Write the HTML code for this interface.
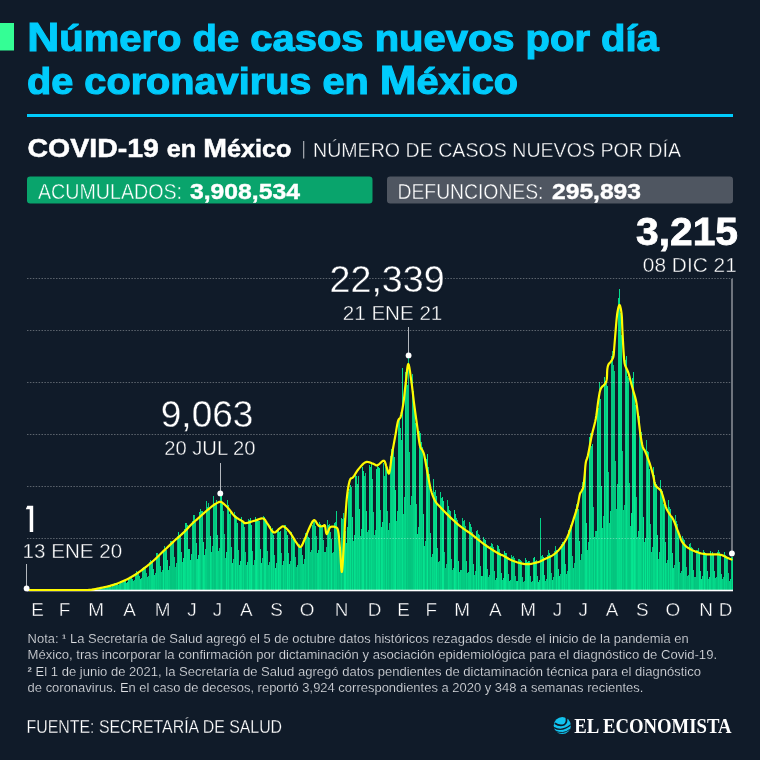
<!DOCTYPE html>
<html><head><meta charset="utf-8"><style>
html,body{margin:0;padding:0;background:#101b29;}
svg{display:block;will-change:transform}
text{font-family:"Liberation Sans",sans-serif;}
</style></head><body>
<svg width="760" height="760" viewBox="0 0 760 760">
<rect width="760" height="760" fill="#101b29"/>
<rect x="0" y="23" width="14" height="27.5" fill="#34fe95"/>
<g fill="#00cbfc" stroke="#00cbfc" stroke-width="1.1" font-weight="bold" font-size="36">
<text x="27.3" y="51" textLength="631.5" lengthAdjust="spacingAndGlyphs"><tspan font-size="40">N</tspan>úmero de casos nuevos por día</text>
<text x="27" y="94" textLength="491" lengthAdjust="spacingAndGlyphs">de coronavirus en <tspan font-size="40">M</tspan>éxico</text>
</g>
<rect x="27" y="114" width="706" height="3" fill="#00cbfc"/>
<g fill="#ffffff">
<text x="27.5" y="156.5" font-size="26" font-weight="bold" stroke="#ffffff" stroke-width="0.5" textLength="264" lengthAdjust="spacingAndGlyphs">COVID-19 <tspan font-size="23">en </tspan>M<tspan font-size="23">éxico</tspan></text>
<rect x="303" y="141" width="1.3" height="17.5" fill="#9da2a9"/>
<text x="313" y="156.5" font-size="20" stroke="#101b29" stroke-width="0.4" textLength="368" lengthAdjust="spacingAndGlyphs">NÚMERO DE CASOS NUEVOS POR DÍA</text>
</g>
<rect x="27" y="176.5" width="345.5" height="27" rx="3.2" fill="#09a46c"/>
<rect x="387" y="176.5" width="346" height="27" rx="3.2" fill="#4f5661"/>
<g fill="#ffffff" font-size="21.5">
<text x="38" y="198.5"><tspan textLength="144" lengthAdjust="spacingAndGlyphs" stroke="#09a46c" stroke-width="0.4">ACUMULADOS:</tspan><tspan x="190" font-weight="bold" stroke="#ffffff" stroke-width="0.4" textLength="110" lengthAdjust="spacingAndGlyphs">3,908,534</tspan></text>
<text x="397.5" y="198.5"><tspan textLength="146" lengthAdjust="spacingAndGlyphs" stroke="#4f5661" stroke-width="0.4">DEFUNCIONES:</tspan><tspan x="552" font-weight="bold" stroke="#ffffff" stroke-width="0.4" textLength="89" lengthAdjust="spacingAndGlyphs">295,893</tspan></text>
</g>
<g fill="#0ad98c" shape-rendering="crispEdges"><rect x="95" y="588.8" width="1" height="1.7" fill="#04d286"/><rect x="96" y="588.7" width="1" height="1.8" fill="#05d989"/><rect x="97" y="588.8" width="1" height="1.7" fill="#04c981"/><rect x="98" y="588.7" width="1" height="1.8" fill="#04d185"/><rect x="99" y="587.9" width="1" height="2.6" fill="#05e28e"/><rect x="100" y="587.6" width="1" height="2.9" fill="#05e28e"/><rect x="101" y="587.4" width="1" height="3.1" fill="#04c57e"/><rect x="102" y="587.4" width="1" height="3.1" fill="#04c77f"/><rect x="103" y="587.3" width="1" height="3.2" fill="#04c47e"/><rect x="104" y="587.8" width="1" height="2.7" fill="#04ce83"/><rect x="105" y="587.5" width="1" height="3.0" fill="#04c47e"/><rect x="106" y="586.4" width="1" height="4.1" fill="#04cf84"/><rect x="107" y="585.8" width="1" height="4.7" fill="#05d688"/><rect x="108" y="585.6" width="1" height="4.9" fill="#04c980"/><rect x="109" y="585.6" width="1" height="4.9" fill="#05d889"/><rect x="110" y="586.0" width="1" height="4.5" fill="#04d487"/><rect x="111" y="586.7" width="1" height="3.8" fill="#04c47e"/><rect x="112" y="586.2" width="1" height="4.3" fill="#04d386"/><rect x="113" y="584.0" width="1" height="6.5" fill="#04c880"/><rect x="114" y="583.3" width="1" height="7.2" fill="#04cd83"/><rect x="115" y="583.0" width="1" height="7.5" fill="#04c981"/><rect x="116" y="583.1" width="1" height="7.4" fill="#05d889"/><rect x="117" y="583.5" width="1" height="7.0" fill="#04ce83"/><rect x="118" y="584.8" width="1" height="5.7" fill="#04c67f"/><rect x="119" y="584.3" width="1" height="6.2" fill="#04d286"/><rect x="120" y="581.1" width="1" height="9.4" fill="#05dc8b"/><rect x="121" y="581.0" width="1" height="9.5" fill="#04ca81"/><rect x="122" y="581.0" width="1" height="9.5" fill="#04c780"/><rect x="123" y="580.5" width="1" height="10.0" fill="#04cc82"/><rect x="124" y="579.6" width="1" height="10.9" fill="#05e490"/><rect x="125" y="580.9" width="1" height="9.6" fill="#05e691"/><rect x="126" y="583.1" width="1" height="7.4" fill="#05d789"/><rect x="127" y="582.3" width="1" height="8.2" fill="#05e28f"/><rect x="128" y="577.7" width="1" height="12.8" fill="#05e08d"/><rect x="129" y="576.7" width="1" height="13.8" fill="#04cc82"/><rect x="130" y="576.5" width="1" height="14.0" fill="#04c57e"/><rect x="131" y="577.4" width="1" height="13.1" fill="#05d788"/><rect x="132" y="578.5" width="1" height="12.0" fill="#04d286"/><rect x="133" y="581.4" width="1" height="9.1" fill="#04cb82"/><rect x="134" y="579.6" width="1" height="10.9" fill="#04c780"/><rect x="135" y="572.7" width="1" height="17.8" fill="#04cd83"/><rect x="136" y="571.1" width="1" height="19.4" fill="#04cf84"/><rect x="137" y="572.3" width="1" height="18.2" fill="#04c980"/><rect x="138" y="572.2" width="1" height="18.3" fill="#04c981"/><rect x="139" y="575.6" width="1" height="14.9" fill="#04cf84"/><rect x="140" y="578.8" width="1" height="11.7" fill="#05e08d"/><rect x="141" y="577.7" width="1" height="12.8" fill="#04d486"/><rect x="142" y="568.4" width="1" height="22.1" fill="#04c981"/><rect x="143" y="566.7" width="1" height="23.8" fill="#04c980"/><rect x="144" y="566.7" width="1" height="23.8" fill="#04cf84"/><rect x="145" y="567.1" width="1" height="23.4" fill="#04c77f"/><rect x="146" y="573.4" width="1" height="17.1" fill="#04c77f"/><rect x="147" y="576.7" width="1" height="13.8" fill="#04d185"/><rect x="148" y="576.2" width="1" height="14.3" fill="#04c47e"/><rect x="149" y="562.1" width="1" height="28.4" fill="#04d084"/><rect x="150" y="559.9" width="1" height="30.6" fill="#04cb82"/><rect x="151" y="560.5" width="1" height="30.0" fill="#05d989"/><rect x="152" y="561.0" width="1" height="29.5" fill="#05db8a"/><rect x="153" y="569.1" width="1" height="21.4" fill="#05d889"/><rect x="154" y="575.0" width="1" height="15.5" fill="#05d889"/><rect x="155" y="573.0" width="1" height="17.5" fill="#04cc82"/><rect x="156" y="553.2" width="1" height="37.3" fill="#05d788"/><rect x="157" y="553.3" width="1" height="37.2" fill="#04cb81"/><rect x="158" y="554.5" width="1" height="36.0" fill="#04d386"/><rect x="159" y="554.7" width="1" height="35.8" fill="#04ca81"/><rect x="160" y="565.6" width="1" height="24.9" fill="#04ce83"/><rect x="161" y="571.9" width="1" height="18.6" fill="#04c47e"/><rect x="162" y="570.4" width="1" height="20.1" fill="#04c880"/><rect x="163" y="549.7" width="1" height="40.8" fill="#05e691"/><rect x="164" y="546.1" width="1" height="44.4" fill="#04c780"/><rect x="165" y="548.6" width="1" height="41.9" fill="#05d889"/><rect x="166" y="550.2" width="1" height="40.3" fill="#05d688"/><rect x="167" y="560.3" width="1" height="30.2" fill="#05da8a"/><rect x="168" y="569.5" width="1" height="21.0" fill="#04cf84"/><rect x="169" y="565.9" width="1" height="24.6" fill="#04d487"/><rect x="170" y="540.5" width="1" height="50.0" fill="#04c47e"/><rect x="171" y="541.0" width="1" height="49.5" fill="#04c47e"/><rect x="172" y="541.6" width="1" height="48.9" fill="#04c77f"/><rect x="173" y="541.4" width="1" height="49.1" fill="#04c67f"/><rect x="174" y="556.7" width="1" height="33.8" fill="#04c57e"/><rect x="175" y="566.7" width="1" height="23.8" fill="#04c57e"/><rect x="176" y="563.3" width="1" height="27.2" fill="#04d286"/><rect x="177" y="535.5" width="1" height="55.0" fill="#04c67f"/><rect x="178" y="531.9" width="1" height="58.6" fill="#05e590"/><rect x="179" y="536.4" width="1" height="54.1" fill="#05d889"/><rect x="180" y="534.4" width="1" height="56.1" fill="#04d285"/><rect x="181" y="551.5" width="1" height="39.0" fill="#05d989"/><rect x="182" y="562.2" width="1" height="28.3" fill="#04c880"/><rect x="183" y="558.1" width="1" height="32.4" fill="#05e48f"/><rect x="184" y="528.6" width="1" height="61.9" fill="#05df8d"/><rect x="185" y="522.8" width="1" height="67.7" fill="#05da8a"/><rect x="186" y="522.6" width="1" height="67.9" fill="#04cf84"/><rect x="187" y="524.7" width="1" height="65.8" fill="#05df8d"/><rect x="188" y="549.3" width="1" height="41.2" fill="#05db8a"/><rect x="189" y="549.3" width="1" height="41.2" fill="#05d788"/><rect x="190" y="559.7" width="1" height="30.8" fill="#05e38f"/><rect x="191" y="554.2" width="1" height="36.3" fill="#05d688"/><rect x="192" y="520.8" width="1" height="69.7" fill="#04cb82"/><rect x="193" y="515.4" width="1" height="75.1" fill="#04d286"/><rect x="194" y="515.0" width="1" height="75.5" fill="#04c77f"/><rect x="195" y="521.5" width="1" height="69.0" fill="#04c77f"/><rect x="196" y="542.8" width="1" height="47.7" fill="#05da8a"/><rect x="197" y="558.7" width="1" height="31.8" fill="#05dd8b"/><rect x="198" y="554.6" width="1" height="35.9" fill="#05e691"/><rect x="199" y="512.3" width="1" height="78.2" fill="#05e08d"/><rect x="200" y="509.2" width="1" height="81.3" fill="#04d286"/><rect x="201" y="511.4" width="1" height="79.1" fill="#04c47e"/><rect x="202" y="510.8" width="1" height="79.7" fill="#04d084"/><rect x="203" y="541.6" width="1" height="48.9" fill="#05e48f"/><rect x="204" y="555.1" width="1" height="35.4" fill="#05dd8b"/><rect x="205" y="549.4" width="1" height="41.1" fill="#04d084"/><rect x="206" y="501.4" width="1" height="89.1" fill="#04cf84"/><rect x="207" y="507.0" width="1" height="83.5" fill="#04c780"/><rect x="208" y="502.5" width="1" height="88.0" fill="#04c67f"/><rect x="209" y="508.4" width="1" height="82.1" fill="#04c47e"/><rect x="210" y="535.7" width="1" height="54.8" fill="#05e28e"/><rect x="211" y="552.3" width="1" height="38.2" fill="#05d688"/><rect x="212" y="546.4" width="1" height="44.1" fill="#04c57f"/><rect x="213" y="496.4" width="1" height="94.1" fill="#04cd83"/><rect x="214" y="502.9" width="1" height="87.6" fill="#04c47e"/><rect x="215" y="503.3" width="1" height="87.2" fill="#04c77f"/><rect x="216" y="500.1" width="1" height="90.4" fill="#05da8a"/><rect x="217" y="535.0" width="1" height="55.5" fill="#05d688"/><rect x="218" y="550.6" width="1" height="39.9" fill="#04cf84"/><rect x="219" y="547.5" width="1" height="43.0" fill="#04c980"/><rect x="220" y="496.2" width="1" height="94.3" fill="#05d688"/><rect x="221" y="492.9" width="1" height="97.6" fill="#05e590"/><rect x="222" y="502.7" width="1" height="87.8" fill="#04ce83"/><rect x="223" y="510.8" width="1" height="79.7" fill="#04c47e"/><rect x="224" y="534.1" width="1" height="56.4" fill="#04c47e"/><rect x="225" y="558.2" width="1" height="32.3" fill="#04c47e"/><rect x="226" y="551.6" width="1" height="38.9" fill="#05e590"/><rect x="227" y="500.0" width="1" height="90.5" fill="#04d285"/><rect x="228" y="504.7" width="1" height="85.8" fill="#05df8d"/><rect x="229" y="513.9" width="1" height="76.6" fill="#04c67f"/><rect x="230" y="511.1" width="1" height="79.4" fill="#04c880"/><rect x="231" y="547.2" width="1" height="43.3" fill="#05d889"/><rect x="232" y="562.7" width="1" height="27.8" fill="#05e28e"/><rect x="233" y="558.8" width="1" height="31.7" fill="#04cb81"/><rect x="234" y="511.9" width="1" height="78.6" fill="#04c47e"/><rect x="235" y="514.7" width="1" height="75.8" fill="#05e08e"/><rect x="236" y="516.3" width="1" height="74.2" fill="#04c981"/><rect x="237" y="522.8" width="1" height="67.7" fill="#05da8a"/><rect x="238" y="549.7" width="1" height="40.8" fill="#04c67f"/><rect x="239" y="565.1" width="1" height="25.4" fill="#05d889"/><rect x="240" y="561.0" width="1" height="29.5" fill="#05df8d"/><rect x="241" y="517.3" width="1" height="73.2" fill="#05da8a"/><rect x="242" y="520.8" width="1" height="69.7" fill="#04cb82"/><rect x="243" y="521.6" width="1" height="68.9" fill="#05da8a"/><rect x="244" y="527.3" width="1" height="63.2" fill="#04c57f"/><rect x="245" y="552.4" width="1" height="38.1" fill="#04ca81"/><rect x="246" y="564.9" width="1" height="25.6" fill="#04cd83"/><rect x="247" y="561.6" width="1" height="28.9" fill="#05e18e"/><rect x="248" y="518.8" width="1" height="71.7" fill="#04c67f"/><rect x="249" y="520.2" width="1" height="70.3" fill="#05e18e"/><rect x="250" y="518.2" width="1" height="72.3" fill="#05dd8c"/><rect x="251" y="525.3" width="1" height="65.2" fill="#05e691"/><rect x="252" y="550.5" width="1" height="40.0" fill="#04cc82"/><rect x="253" y="564.9" width="1" height="25.6" fill="#04c77f"/><rect x="254" y="560.3" width="1" height="30.2" fill="#04c880"/><rect x="255" y="516.6" width="1" height="73.9" fill="#05df8d"/><rect x="256" y="520.6" width="1" height="69.9" fill="#05e690"/><rect x="257" y="520.6" width="1" height="69.9" fill="#05d989"/><rect x="258" y="520.7" width="1" height="69.8" fill="#04d084"/><rect x="259" y="521.4" width="1" height="69.1" fill="#04c981"/><rect x="260" y="549.0" width="1" height="41.5" fill="#05df8d"/><rect x="261" y="563.4" width="1" height="27.1" fill="#05e18e"/><rect x="262" y="558.1" width="1" height="32.4" fill="#04c57e"/><rect x="263" y="516.2" width="1" height="74.3" fill="#04c780"/><rect x="264" y="517.3" width="1" height="73.2" fill="#05df8d"/><rect x="265" y="518.8" width="1" height="71.7" fill="#05e08d"/><rect x="266" y="522.9" width="1" height="67.6" fill="#04ca81"/><rect x="267" y="551.4" width="1" height="39.1" fill="#04c980"/><rect x="268" y="565.3" width="1" height="25.2" fill="#04ce83"/><rect x="269" y="561.8" width="1" height="28.7" fill="#04d285"/><rect x="270" y="526.0" width="1" height="64.5" fill="#04c57e"/><rect x="271" y="531.9" width="1" height="58.6" fill="#05df8d"/><rect x="272" y="528.3" width="1" height="62.2" fill="#04d285"/><rect x="273" y="534.6" width="1" height="55.9" fill="#05dc8b"/><rect x="274" y="555.0" width="1" height="35.5" fill="#04c780"/><rect x="275" y="568.2" width="1" height="22.3" fill="#05e690"/><rect x="276" y="562.7" width="1" height="27.8" fill="#05db8b"/><rect x="277" y="529.5" width="1" height="61.0" fill="#04cb82"/><rect x="278" y="528.3" width="1" height="62.2" fill="#05e590"/><rect x="279" y="532.2" width="1" height="58.3" fill="#05d989"/><rect x="280" y="531.4" width="1" height="59.1" fill="#05df8d"/><rect x="281" y="553.2" width="1" height="37.3" fill="#04c47e"/><rect x="282" y="565.4" width="1" height="25.1" fill="#04c47e"/><rect x="283" y="561.4" width="1" height="29.1" fill="#05db8a"/><rect x="284" y="525.1" width="1" height="65.4" fill="#04ca81"/><rect x="285" y="524.7" width="1" height="65.8" fill="#04d185"/><rect x="286" y="530.7" width="1" height="59.8" fill="#04c67f"/><rect x="287" y="535.0" width="1" height="55.5" fill="#05e691"/><rect x="288" y="553.2" width="1" height="37.3" fill="#04d085"/><rect x="289" y="564.4" width="1" height="26.1" fill="#05df8d"/><rect x="290" y="561.0" width="1" height="29.5" fill="#04c47e"/><rect x="291" y="531.7" width="1" height="58.8" fill="#04cf84"/><rect x="292" y="538.9" width="1" height="51.6" fill="#04c47e"/><rect x="293" y="538.0" width="1" height="52.5" fill="#05e18e"/><rect x="294" y="539.8" width="1" height="50.7" fill="#04ce83"/><rect x="295" y="556.8" width="1" height="33.7" fill="#04c47e"/><rect x="296" y="567.4" width="1" height="23.1" fill="#04c47e"/><rect x="297" y="564.5" width="1" height="26.0" fill="#04d285"/><rect x="298" y="544.4" width="1" height="46.1" fill="#04c47e"/><rect x="299" y="544.0" width="1" height="46.5" fill="#04c67f"/><rect x="300" y="547.3" width="1" height="43.2" fill="#04ce83"/><rect x="301" y="545.0" width="1" height="45.5" fill="#04d085"/><rect x="302" y="554.6" width="1" height="35.9" fill="#04d486"/><rect x="303" y="564.0" width="1" height="26.5" fill="#04d587"/><rect x="304" y="558.6" width="1" height="31.9" fill="#04cc82"/><rect x="305" y="533.4" width="1" height="57.1" fill="#04d587"/><rect x="306" y="534.4" width="1" height="56.1" fill="#04c67f"/><rect x="307" y="533.4" width="1" height="57.1" fill="#04c980"/><rect x="308" y="537.2" width="1" height="53.3" fill="#05dd8c"/><rect x="309" y="538.2" width="1" height="52.3" fill="#04c67f"/><rect x="310" y="552.2" width="1" height="38.3" fill="#04c780"/><rect x="311" y="550.3" width="1" height="40.2" fill="#04c880"/><rect x="312" y="524.6" width="1" height="65.9" fill="#04cf84"/><rect x="313" y="519.9" width="1" height="70.6" fill="#04c47e"/><rect x="314" y="519.8" width="1" height="70.7" fill="#04c47e"/><rect x="315" y="525.8" width="1" height="64.7" fill="#04cf84"/><rect x="316" y="536.0" width="1" height="54.5" fill="#04c67f"/><rect x="317" y="552.6" width="1" height="37.9" fill="#05d889"/><rect x="318" y="550.4" width="1" height="40.1" fill="#05dd8c"/><rect x="319" y="521.9" width="1" height="68.6" fill="#04d386"/><rect x="320" y="523.6" width="1" height="66.9" fill="#05d889"/><rect x="321" y="526.7" width="1" height="63.8" fill="#04cc82"/><rect x="322" y="526.5" width="1" height="64.0" fill="#04c47e"/><rect x="323" y="540.4" width="1" height="50.1" fill="#04ce83"/><rect x="324" y="552.3" width="1" height="38.2" fill="#04cc82"/><rect x="325" y="552.3" width="1" height="38.2" fill="#04d487"/><rect x="326" y="546.9" width="1" height="43.6" fill="#04c57e"/><rect x="327" y="520.0" width="1" height="70.5" fill="#04c780"/><rect x="328" y="525.2" width="1" height="65.3" fill="#05de8c"/><rect x="329" y="523.8" width="1" height="66.7" fill="#04c880"/><rect x="330" y="531.5" width="1" height="59.0" fill="#04cd83"/><rect x="331" y="539.3" width="1" height="51.2" fill="#05e490"/><rect x="332" y="552.8" width="1" height="37.7" fill="#04c980"/><rect x="333" y="551.6" width="1" height="38.9" fill="#04c57f"/><rect x="334" y="523.0" width="1" height="67.5" fill="#05d989"/><rect x="335" y="521.7" width="1" height="68.8" fill="#04d386"/><rect x="336" y="510.7" width="1" height="79.8" fill="#04d587"/><rect x="337" y="530.1" width="1" height="60.4" fill="#04c47e"/><rect x="338" y="535.4" width="1" height="55.1" fill="#04cd83"/><rect x="339" y="551.9" width="1" height="38.6" fill="#04c47e"/><rect x="340" y="548.0" width="1" height="42.5" fill="#04c880"/><rect x="341" y="517.8" width="1" height="72.7" fill="#05d989"/><rect x="342" y="518.8" width="1" height="71.7" fill="#04c47e"/><rect x="343" y="513.3" width="1" height="77.2" fill="#04c981"/><rect x="344" y="518.0" width="1" height="72.5" fill="#05e791"/><rect x="345" y="531.0" width="1" height="59.5" fill="#05e691"/><rect x="346" y="543.0" width="1" height="47.5" fill="#04d084"/><rect x="347" y="527.0" width="1" height="63.5" fill="#05da8a"/><rect x="348" y="491.7" width="1" height="98.8" fill="#05d688"/><rect x="349" y="488.6" width="1" height="101.9" fill="#04cf84"/><rect x="350" y="485.4" width="1" height="105.1" fill="#05e08d"/><rect x="351" y="487.4" width="1" height="103.1" fill="#04c67f"/><rect x="352" y="516.7" width="1" height="73.8" fill="#05df8d"/><rect x="353" y="540.9" width="1" height="49.6" fill="#04c47e"/><rect x="354" y="535.2" width="1" height="55.3" fill="#05e18e"/><rect x="355" y="473.8" width="1" height="116.7" fill="#05d889"/><rect x="356" y="476.0" width="1" height="114.5" fill="#04ce83"/><rect x="357" y="484.1" width="1" height="106.4" fill="#05d789"/><rect x="358" y="476.2" width="1" height="114.3" fill="#04cf84"/><rect x="359" y="508.8" width="1" height="81.7" fill="#05dc8b"/><rect x="360" y="535.5" width="1" height="55.0" fill="#04c57e"/><rect x="361" y="528.9" width="1" height="61.6" fill="#04d185"/><rect x="362" y="466.5" width="1" height="124.0" fill="#05e18e"/><rect x="363" y="470.6" width="1" height="119.9" fill="#05e48f"/><rect x="364" y="475.9" width="1" height="114.6" fill="#04c780"/><rect x="365" y="472.8" width="1" height="117.7" fill="#04c880"/><rect x="366" y="511.3" width="1" height="79.2" fill="#05e28f"/><rect x="367" y="532.1" width="1" height="58.4" fill="#04cb82"/><rect x="368" y="529.8" width="1" height="60.7" fill="#04c47e"/><rect x="369" y="465.3" width="1" height="125.2" fill="#05d98a"/><rect x="370" y="466.8" width="1" height="123.7" fill="#04cd83"/><rect x="371" y="462.4" width="1" height="128.1" fill="#05da8a"/><rect x="372" y="479.2" width="1" height="111.3" fill="#04cf84"/><rect x="373" y="512.3" width="1" height="78.2" fill="#04d085"/><rect x="374" y="535.0" width="1" height="55.5" fill="#04cd83"/><rect x="375" y="530.1" width="1" height="60.4" fill="#04c981"/><rect x="376" y="469.2" width="1" height="121.3" fill="#05e28f"/><rect x="377" y="465.9" width="1" height="124.6" fill="#05d788"/><rect x="378" y="467.2" width="1" height="123.3" fill="#05dd8c"/><rect x="379" y="467.8" width="1" height="122.7" fill="#05e28e"/><rect x="380" y="509.7" width="1" height="80.8" fill="#04c880"/><rect x="381" y="527.4" width="1" height="63.1" fill="#05e38f"/><rect x="382" y="521.5" width="1" height="69.0" fill="#05e08e"/><rect x="383" y="463.0" width="1" height="127.5" fill="#04d085"/><rect x="384" y="475.6" width="1" height="114.9" fill="#04d386"/><rect x="385" y="466.8" width="1" height="123.7" fill="#04c57e"/><rect x="386" y="469.4" width="1" height="121.1" fill="#05db8b"/><rect x="387" y="510.7" width="1" height="79.8" fill="#04c67f"/><rect x="388" y="529.5" width="1" height="61.0" fill="#04d285"/><rect x="389" y="522.5" width="1" height="68.0" fill="#04c57e"/><rect x="390" y="456.4" width="1" height="134.1" fill="#04c47e"/><rect x="391" y="449.1" width="1" height="141.4" fill="#04d587"/><rect x="392" y="450.1" width="1" height="140.4" fill="#04d084"/><rect x="393" y="450.1" width="1" height="140.4" fill="#05d789"/><rect x="394" y="457.3" width="1" height="133.2" fill="#05dd8c"/><rect x="395" y="490.2" width="1" height="100.3" fill="#05e791"/><rect x="396" y="520.7" width="1" height="69.8" fill="#04c47e"/><rect x="397" y="510.6" width="1" height="79.9" fill="#05d688"/><rect x="398" y="421.1" width="1" height="169.4" fill="#04d386"/><rect x="399" y="418.2" width="1" height="172.3" fill="#05d688"/><rect x="400" y="427.7" width="1" height="162.8" fill="#04d286"/><rect x="401" y="440.4" width="1" height="150.1" fill="#04d286"/><rect x="402" y="367.6" width="1" height="222.9" fill="#05e18e"/><rect x="403" y="514.2" width="1" height="76.3" fill="#04ce84"/><rect x="404" y="497.2" width="1" height="93.3" fill="#04d285"/><rect x="405" y="371.8" width="1" height="218.7" fill="#05d889"/><rect x="406" y="377.6" width="1" height="212.9" fill="#04c47e"/><rect x="407" y="384.5" width="1" height="206.0" fill="#04ce83"/><rect x="408" y="358.4" width="1" height="232.1" fill="#04c57e"/><rect x="409" y="451.5" width="1" height="139.0" fill="#04c57f"/><rect x="410" y="504.7" width="1" height="85.8" fill="#04c47e"/><rect x="411" y="495.8" width="1" height="94.7" fill="#04c77f"/><rect x="412" y="373.9" width="1" height="216.6" fill="#04c780"/><rect x="413" y="390.9" width="1" height="199.6" fill="#04d185"/><rect x="414" y="405.9" width="1" height="184.6" fill="#04d386"/><rect x="415" y="423.4" width="1" height="167.1" fill="#05de8c"/><rect x="416" y="504.1" width="1" height="86.4" fill="#04d084"/><rect x="417" y="534.4" width="1" height="56.1" fill="#05e28e"/><rect x="418" y="527.1" width="1" height="63.4" fill="#04cc82"/><rect x="419" y="431.1" width="1" height="159.4" fill="#05db8a"/><rect x="420" y="433.0" width="1" height="157.5" fill="#04d286"/><rect x="421" y="441.5" width="1" height="149.0" fill="#04d587"/><rect x="422" y="447.1" width="1" height="143.4" fill="#04c980"/><rect x="423" y="513.8" width="1" height="76.7" fill="#05e490"/><rect x="424" y="546.1" width="1" height="44.4" fill="#05dc8b"/><rect x="425" y="540.8" width="1" height="49.7" fill="#04c57f"/><rect x="426" y="459.2" width="1" height="131.3" fill="#04d285"/><rect x="427" y="453.6" width="1" height="136.9" fill="#05e791"/><rect x="428" y="466.7" width="1" height="123.8" fill="#04c47e"/><rect x="429" y="474.3" width="1" height="116.2" fill="#04c981"/><rect x="430" y="533.0" width="1" height="57.5" fill="#05da8a"/><rect x="431" y="556.8" width="1" height="33.7" fill="#04c47e"/><rect x="432" y="554.3" width="1" height="36.2" fill="#05db8a"/><rect x="433" y="479.4" width="1" height="111.1" fill="#04d386"/><rect x="434" y="491.5" width="1" height="99.0" fill="#05da8a"/><rect x="435" y="490.1" width="1" height="100.4" fill="#04d286"/><rect x="436" y="496.4" width="1" height="94.1" fill="#05e490"/><rect x="437" y="548.2" width="1" height="42.3" fill="#04cb82"/><rect x="438" y="562.2" width="1" height="28.3" fill="#04d386"/><rect x="439" y="560.5" width="1" height="30.0" fill="#04c47e"/><rect x="440" y="492.3" width="1" height="98.2" fill="#04d286"/><rect x="441" y="498.1" width="1" height="92.4" fill="#04cd83"/><rect x="442" y="497.4" width="1" height="93.1" fill="#05e791"/><rect x="443" y="501.2" width="1" height="89.3" fill="#05e590"/><rect x="444" y="551.7" width="1" height="38.8" fill="#04c57f"/><rect x="445" y="568.1" width="1" height="22.4" fill="#04c47e"/><rect x="446" y="563.5" width="1" height="27.0" fill="#04c57e"/><rect x="447" y="500.2" width="1" height="90.3" fill="#04c77f"/><rect x="448" y="505.9" width="1" height="84.6" fill="#05da8a"/><rect x="449" y="510.2" width="1" height="80.3" fill="#04d286"/><rect x="450" y="511.4" width="1" height="79.1" fill="#04d285"/><rect x="451" y="558.5" width="1" height="32.0" fill="#04cf84"/><rect x="452" y="570.3" width="1" height="20.2" fill="#04c47e"/><rect x="453" y="567.8" width="1" height="22.7" fill="#04cc82"/><rect x="454" y="509.6" width="1" height="80.9" fill="#05e791"/><rect x="455" y="514.3" width="1" height="76.2" fill="#05de8c"/><rect x="456" y="518.4" width="1" height="72.1" fill="#04d386"/><rect x="457" y="520.3" width="1" height="70.2" fill="#04c77f"/><rect x="458" y="560.6" width="1" height="29.9" fill="#05e38f"/><rect x="459" y="572.4" width="1" height="18.1" fill="#04cd83"/><rect x="460" y="570.0" width="1" height="20.5" fill="#04d587"/><rect x="461" y="570.0" width="1" height="20.5" fill="#04c77f"/><rect x="462" y="518.4" width="1" height="72.1" fill="#04ca81"/><rect x="463" y="520.8" width="1" height="69.7" fill="#04cb82"/><rect x="464" y="519.6" width="1" height="70.9" fill="#04cc82"/><rect x="465" y="525.5" width="1" height="65.0" fill="#04c47e"/><rect x="466" y="560.9" width="1" height="29.6" fill="#05d788"/><rect x="467" y="573.4" width="1" height="17.1" fill="#04c67f"/><rect x="468" y="571.5" width="1" height="19.0" fill="#04d487"/><rect x="469" y="521.9" width="1" height="68.6" fill="#04d587"/><rect x="470" y="523.9" width="1" height="66.6" fill="#05d889"/><rect x="471" y="526.7" width="1" height="63.8" fill="#04c981"/><rect x="472" y="531.6" width="1" height="58.9" fill="#04c981"/><rect x="473" y="564.2" width="1" height="26.3" fill="#05db8b"/><rect x="474" y="574.6" width="1" height="15.9" fill="#04cc82"/><rect x="475" y="571.1" width="1" height="19.4" fill="#04c67f"/><rect x="476" y="531.3" width="1" height="59.2" fill="#05e38f"/><rect x="477" y="529.9" width="1" height="60.6" fill="#04c47e"/><rect x="478" y="534.3" width="1" height="56.2" fill="#05e28e"/><rect x="479" y="535.2" width="1" height="55.3" fill="#04c981"/><rect x="480" y="566.0" width="1" height="24.5" fill="#04cc82"/><rect x="481" y="575.9" width="1" height="14.6" fill="#05e691"/><rect x="482" y="575.8" width="1" height="14.7" fill="#04ce83"/><rect x="483" y="536.9" width="1" height="53.6" fill="#05d98a"/><rect x="484" y="539.0" width="1" height="51.5" fill="#04cd83"/><rect x="485" y="539.7" width="1" height="50.8" fill="#05e38f"/><rect x="486" y="543.5" width="1" height="47.0" fill="#05d98a"/><rect x="487" y="569.2" width="1" height="21.3" fill="#04cf84"/><rect x="488" y="577.4" width="1" height="13.1" fill="#04c47e"/><rect x="489" y="574.8" width="1" height="15.7" fill="#04cb82"/><rect x="490" y="546.4" width="1" height="44.1" fill="#04d084"/><rect x="491" y="543.4" width="1" height="47.1" fill="#04c981"/><rect x="492" y="544.4" width="1" height="46.1" fill="#04d285"/><rect x="493" y="547.3" width="1" height="43.2" fill="#04c77f"/><rect x="494" y="571.1" width="1" height="19.4" fill="#04d084"/><rect x="495" y="579.5" width="1" height="11.0" fill="#04d185"/><rect x="496" y="577.6" width="1" height="12.9" fill="#05d789"/><rect x="497" y="545.4" width="1" height="45.1" fill="#05db8a"/><rect x="498" y="546.1" width="1" height="44.4" fill="#05da8a"/><rect x="499" y="549.4" width="1" height="41.1" fill="#04cd83"/><rect x="500" y="552.9" width="1" height="37.6" fill="#04cf84"/><rect x="501" y="572.6" width="1" height="17.9" fill="#05e18e"/><rect x="502" y="580.0" width="1" height="10.5" fill="#04cb82"/><rect x="503" y="578.1" width="1" height="12.4" fill="#05da8a"/><rect x="504" y="550.5" width="1" height="40.0" fill="#05e791"/><rect x="505" y="552.5" width="1" height="38.0" fill="#05e48f"/><rect x="506" y="553.2" width="1" height="37.3" fill="#04d286"/><rect x="507" y="557.0" width="1" height="33.5" fill="#04ca81"/><rect x="508" y="574.0" width="1" height="16.5" fill="#04d587"/><rect x="509" y="580.6" width="1" height="9.9" fill="#05d889"/><rect x="510" y="580.0" width="1" height="10.5" fill="#04d185"/><rect x="511" y="554.7" width="1" height="35.8" fill="#04cb81"/><rect x="512" y="557.1" width="1" height="33.4" fill="#04cf84"/><rect x="513" y="556.0" width="1" height="34.5" fill="#04c47e"/><rect x="514" y="558.0" width="1" height="32.5" fill="#04c981"/><rect x="515" y="576.0" width="1" height="14.5" fill="#04c57f"/><rect x="516" y="581.4" width="1" height="9.1" fill="#05d788"/><rect x="517" y="580.6" width="1" height="9.9" fill="#05e590"/><rect x="518" y="558.7" width="1" height="31.8" fill="#04c67f"/><rect x="519" y="559.3" width="1" height="31.2" fill="#04c47e"/><rect x="520" y="559.9" width="1" height="30.6" fill="#05da8a"/><rect x="521" y="561.4" width="1" height="29.1" fill="#04cb82"/><rect x="522" y="576.6" width="1" height="13.9" fill="#04d085"/><rect x="523" y="582.3" width="1" height="8.2" fill="#04c47e"/><rect x="524" y="580.6" width="1" height="9.9" fill="#04c67f"/><rect x="525" y="558.2" width="1" height="32.3" fill="#05d889"/><rect x="526" y="560.3" width="1" height="30.2" fill="#04d487"/><rect x="527" y="562.3" width="1" height="28.2" fill="#05e08d"/><rect x="528" y="561.1" width="1" height="29.4" fill="#05e690"/><rect x="529" y="561.1" width="1" height="29.4" fill="#04cb82"/><rect x="530" y="576.2" width="1" height="14.3" fill="#04d587"/><rect x="531" y="582.1" width="1" height="8.4" fill="#04ce83"/><rect x="532" y="581.0" width="1" height="9.5" fill="#04d085"/><rect x="533" y="558.2" width="1" height="32.3" fill="#04cc82"/><rect x="534" y="556.8" width="1" height="33.7" fill="#05e691"/><rect x="535" y="561.3" width="1" height="29.2" fill="#04d587"/><rect x="536" y="559.8" width="1" height="30.7" fill="#04c57f"/><rect x="537" y="576.0" width="1" height="14.5" fill="#05d889"/><rect x="538" y="581.7" width="1" height="8.8" fill="#05e690"/><rect x="539" y="579.7" width="1" height="10.8" fill="#05e28e"/><rect x="540" y="518.1" width="1" height="72.4" fill="#04d386"/><rect x="541" y="555.6" width="1" height="34.9" fill="#04c47e"/><rect x="542" y="554.8" width="1" height="35.7" fill="#05de8c"/><rect x="543" y="557.0" width="1" height="33.5" fill="#05e48f"/><rect x="544" y="574.7" width="1" height="15.8" fill="#05da8a"/><rect x="545" y="580.9" width="1" height="9.6" fill="#04ce83"/><rect x="546" y="579.0" width="1" height="11.5" fill="#04cc82"/><rect x="547" y="554.6" width="1" height="35.9" fill="#05db8a"/><rect x="548" y="549.7" width="1" height="40.8" fill="#04c57e"/><rect x="549" y="552.8" width="1" height="37.7" fill="#05dd8b"/><rect x="550" y="554.8" width="1" height="35.7" fill="#04d085"/><rect x="551" y="573.1" width="1" height="17.4" fill="#04c47e"/><rect x="552" y="579.5" width="1" height="11.0" fill="#05de8c"/><rect x="553" y="577.2" width="1" height="13.3" fill="#04cc82"/><rect x="554" y="550.6" width="1" height="39.9" fill="#04c57e"/><rect x="555" y="545.9" width="1" height="44.6" fill="#04c67f"/><rect x="556" y="550.0" width="1" height="40.5" fill="#05e08d"/><rect x="557" y="551.0" width="1" height="39.5" fill="#04c67f"/><rect x="558" y="568.9" width="1" height="21.6" fill="#05dd8b"/><rect x="559" y="576.2" width="1" height="14.3" fill="#05dd8c"/><rect x="560" y="573.5" width="1" height="17.0" fill="#04c47e"/><rect x="561" y="543.5" width="1" height="47.0" fill="#04ce83"/><rect x="562" y="541.5" width="1" height="49.0" fill="#05dd8b"/><rect x="563" y="541.9" width="1" height="48.6" fill="#04d084"/><rect x="564" y="542.1" width="1" height="48.4" fill="#05e18e"/><rect x="565" y="563.8" width="1" height="26.7" fill="#04cc82"/><rect x="566" y="574.1" width="1" height="16.4" fill="#04d587"/><rect x="567" y="571.0" width="1" height="19.5" fill="#04c77f"/><rect x="568" y="530.3" width="1" height="60.2" fill="#05df8d"/><rect x="569" y="531.2" width="1" height="59.3" fill="#05df8d"/><rect x="570" y="524.8" width="1" height="65.7" fill="#04d386"/><rect x="571" y="527.2" width="1" height="63.3" fill="#04ca81"/><rect x="572" y="556.1" width="1" height="34.4" fill="#04cb82"/><rect x="573" y="567.9" width="1" height="22.6" fill="#04d487"/><rect x="574" y="563.4" width="1" height="27.1" fill="#04c57e"/><rect x="575" y="509.3" width="1" height="81.2" fill="#04d185"/><rect x="576" y="503.5" width="1" height="87.0" fill="#04c981"/><rect x="577" y="509.3" width="1" height="81.2" fill="#04cb81"/><rect x="578" y="509.1" width="1" height="81.4" fill="#04ca81"/><rect x="579" y="540.6" width="1" height="49.9" fill="#05df8d"/><rect x="580" y="559.9" width="1" height="30.6" fill="#04c67f"/><rect x="581" y="553.9" width="1" height="36.6" fill="#04c880"/><rect x="582" y="482.3" width="1" height="108.2" fill="#04c67f"/><rect x="583" y="480.3" width="1" height="110.2" fill="#04c47e"/><rect x="584" y="469.9" width="1" height="120.6" fill="#04cd83"/><rect x="585" y="471.5" width="1" height="119.0" fill="#05df8d"/><rect x="586" y="523.3" width="1" height="67.2" fill="#05e28f"/><rect x="587" y="550.0" width="1" height="40.5" fill="#04d084"/><rect x="588" y="542.3" width="1" height="48.2" fill="#04cd83"/><rect x="589" y="436.9" width="1" height="153.6" fill="#05e18e"/><rect x="590" y="433.3" width="1" height="157.2" fill="#04d185"/><rect x="591" y="446.2" width="1" height="144.3" fill="#04d286"/><rect x="592" y="443.8" width="1" height="146.7" fill="#05d688"/><rect x="593" y="506.8" width="1" height="83.7" fill="#04c47e"/><rect x="594" y="537.4" width="1" height="53.1" fill="#05df8d"/><rect x="595" y="530.8" width="1" height="59.7" fill="#04c57e"/><rect x="596" y="530.8" width="1" height="59.7" fill="#04d185"/><rect x="597" y="405.6" width="1" height="184.9" fill="#05e48f"/><rect x="598" y="408.4" width="1" height="182.1" fill="#04d286"/><rect x="599" y="381.9" width="1" height="208.6" fill="#04cb82"/><rect x="600" y="398.7" width="1" height="191.8" fill="#05da8a"/><rect x="601" y="486.2" width="1" height="104.3" fill="#05e28f"/><rect x="602" y="527.9" width="1" height="62.6" fill="#04d587"/><rect x="603" y="516.2" width="1" height="74.3" fill="#04c47e"/><rect x="604" y="376.7" width="1" height="213.8" fill="#05e18e"/><rect x="605" y="384.4" width="1" height="206.1" fill="#04c47e"/><rect x="606" y="380.9" width="1" height="209.6" fill="#05d889"/><rect x="607" y="385.9" width="1" height="204.6" fill="#05e28f"/><rect x="608" y="471.9" width="1" height="118.6" fill="#04c67f"/><rect x="609" y="523.0" width="1" height="67.5" fill="#04d185"/><rect x="610" y="510.8" width="1" height="79.7" fill="#05d989"/><rect x="611" y="355.7" width="1" height="234.8" fill="#04c67f"/><rect x="612" y="351.3" width="1" height="239.2" fill="#04c880"/><rect x="613" y="364.7" width="1" height="225.8" fill="#04c47e"/><rect x="614" y="371.1" width="1" height="219.4" fill="#04c67f"/><rect x="615" y="461.0" width="1" height="129.5" fill="#04c57e"/><rect x="616" y="509.3" width="1" height="81.2" fill="#04c981"/><rect x="617" y="484.1" width="1" height="106.4" fill="#05db8b"/><rect x="618" y="297.9" width="1" height="292.6" fill="#05d889"/><rect x="619" y="289.2" width="1" height="301.3" fill="#05db8b"/><rect x="620" y="312.7" width="1" height="277.8" fill="#05d788"/><rect x="621" y="335.1" width="1" height="255.4" fill="#05dd8c"/><rect x="622" y="451.1" width="1" height="139.4" fill="#04c67f"/><rect x="623" y="510.0" width="1" height="80.5" fill="#04d286"/><rect x="624" y="505.0" width="1" height="85.5" fill="#04c47e"/><rect x="625" y="360.3" width="1" height="230.2" fill="#04d084"/><rect x="626" y="355.9" width="1" height="234.6" fill="#05df8d"/><rect x="627" y="375.9" width="1" height="214.6" fill="#04cf84"/><rect x="628" y="378.3" width="1" height="212.2" fill="#04c981"/><rect x="629" y="482.6" width="1" height="107.9" fill="#04c980"/><rect x="630" y="526.0" width="1" height="64.5" fill="#04cc82"/><rect x="631" y="513.0" width="1" height="77.5" fill="#05e38f"/><rect x="632" y="377.5" width="1" height="213.0" fill="#05e691"/><rect x="633" y="371.5" width="1" height="219.0" fill="#05db8a"/><rect x="634" y="396.1" width="1" height="194.4" fill="#05e791"/><rect x="635" y="405.0" width="1" height="185.5" fill="#05db8b"/><rect x="636" y="497.0" width="1" height="93.5" fill="#04c981"/><rect x="637" y="536.7" width="1" height="53.8" fill="#04ce83"/><rect x="638" y="530.9" width="1" height="59.6" fill="#05da8a"/><rect x="639" y="415.9" width="1" height="174.6" fill="#05d989"/><rect x="640" y="434.8" width="1" height="155.7" fill="#05d889"/><rect x="641" y="431.9" width="1" height="158.6" fill="#04d084"/><rect x="642" y="441.7" width="1" height="148.8" fill="#04c57f"/><rect x="643" y="516.5" width="1" height="74.0" fill="#05e590"/><rect x="644" y="542.1" width="1" height="48.4" fill="#04c780"/><rect x="645" y="538.1" width="1" height="52.4" fill="#05e691"/><rect x="646" y="439.9" width="1" height="150.6" fill="#04c57e"/><rect x="647" y="450.7" width="1" height="139.8" fill="#05e691"/><rect x="648" y="452.1" width="1" height="138.4" fill="#04cc82"/><rect x="649" y="468.9" width="1" height="121.6" fill="#05de8c"/><rect x="650" y="523.7" width="1" height="66.8" fill="#04c47e"/><rect x="651" y="551.6" width="1" height="38.9" fill="#04ce83"/><rect x="652" y="546.5" width="1" height="44.0" fill="#04c880"/><rect x="653" y="467.1" width="1" height="123.4" fill="#05d889"/><rect x="654" y="475.2" width="1" height="115.3" fill="#05d788"/><rect x="655" y="481.5" width="1" height="109.0" fill="#04cf84"/><rect x="656" y="484.1" width="1" height="106.4" fill="#05d989"/><rect x="657" y="534.6" width="1" height="55.9" fill="#05e691"/><rect x="658" y="558.6" width="1" height="31.9" fill="#04c57e"/><rect x="659" y="551.5" width="1" height="39.0" fill="#04d386"/><rect x="660" y="479.9" width="1" height="110.6" fill="#05d889"/><rect x="661" y="489.3" width="1" height="101.2" fill="#05d688"/><rect x="662" y="491.3" width="1" height="99.2" fill="#04c880"/><rect x="663" y="503.9" width="1" height="86.6" fill="#05e18e"/><rect x="664" y="503.9" width="1" height="86.6" fill="#04c880"/><rect x="665" y="542.2" width="1" height="48.3" fill="#05df8d"/><rect x="666" y="563.3" width="1" height="27.2" fill="#04cf84"/><rect x="667" y="559.8" width="1" height="30.7" fill="#04c57f"/><rect x="668" y="500.4" width="1" height="90.1" fill="#05de8c"/><rect x="669" y="507.1" width="1" height="83.4" fill="#04c47e"/><rect x="670" y="509.2" width="1" height="81.3" fill="#05dd8c"/><rect x="671" y="518.2" width="1" height="72.3" fill="#04d487"/><rect x="672" y="552.7" width="1" height="37.8" fill="#05e18e"/><rect x="673" y="568.1" width="1" height="22.4" fill="#05dd8c"/><rect x="674" y="564.6" width="1" height="25.9" fill="#04cd83"/><rect x="675" y="515.2" width="1" height="75.3" fill="#04c57e"/><rect x="676" y="520.6" width="1" height="69.9" fill="#04c880"/><rect x="677" y="523.8" width="1" height="66.7" fill="#04c47e"/><rect x="678" y="533.1" width="1" height="57.4" fill="#05d788"/><rect x="679" y="561.8" width="1" height="28.7" fill="#04c47e"/><rect x="680" y="573.2" width="1" height="17.3" fill="#04c67f"/><rect x="681" y="570.9" width="1" height="19.6" fill="#04c880"/><rect x="682" y="536.2" width="1" height="54.3" fill="#04cd83"/><rect x="683" y="538.8" width="1" height="51.7" fill="#05d889"/><rect x="684" y="540.4" width="1" height="50.1" fill="#04ce83"/><rect x="685" y="544.9" width="1" height="45.6" fill="#04d085"/><rect x="686" y="567.2" width="1" height="23.3" fill="#04c57e"/><rect x="687" y="575.5" width="1" height="15.0" fill="#04cb81"/><rect x="688" y="574.6" width="1" height="15.9" fill="#04c77f"/><rect x="689" y="544.0" width="1" height="46.5" fill="#05da8a"/><rect x="690" y="542.8" width="1" height="47.7" fill="#04c47e"/><rect x="691" y="547.0" width="1" height="43.5" fill="#04d587"/><rect x="692" y="548.4" width="1" height="42.1" fill="#05d889"/><rect x="693" y="569.9" width="1" height="20.6" fill="#04d085"/><rect x="694" y="576.6" width="1" height="13.9" fill="#04c47e"/><rect x="695" y="576.8" width="1" height="13.7" fill="#04c880"/><rect x="696" y="549.6" width="1" height="40.9" fill="#04c880"/><rect x="697" y="550.3" width="1" height="40.2" fill="#04c880"/><rect x="698" y="548.0" width="1" height="42.5" fill="#04c880"/><rect x="699" y="551.7" width="1" height="38.8" fill="#05e691"/><rect x="700" y="570.9" width="1" height="19.6" fill="#05dd8c"/><rect x="701" y="578.8" width="1" height="11.7" fill="#05e28e"/><rect x="702" y="576.3" width="1" height="14.2" fill="#05d98a"/><rect x="703" y="549.9" width="1" height="40.6" fill="#04cb82"/><rect x="704" y="551.6" width="1" height="38.9" fill="#05e490"/><rect x="705" y="553.9" width="1" height="36.6" fill="#04d084"/><rect x="706" y="555.0" width="1" height="35.5" fill="#04c67f"/><rect x="707" y="571.2" width="1" height="19.3" fill="#05da8a"/><rect x="708" y="578.5" width="1" height="12.0" fill="#04c880"/><rect x="709" y="576.7" width="1" height="13.8" fill="#05de8c"/><rect x="710" y="550.9" width="1" height="39.6" fill="#05da8a"/><rect x="711" y="553.5" width="1" height="37.0" fill="#04c981"/><rect x="712" y="552.2" width="1" height="38.3" fill="#04cf84"/><rect x="713" y="555.1" width="1" height="35.4" fill="#05d98a"/><rect x="714" y="571.3" width="1" height="19.2" fill="#05d788"/><rect x="715" y="578.4" width="1" height="12.1" fill="#04d185"/><rect x="716" y="577.1" width="1" height="13.4" fill="#04c77f"/><rect x="717" y="552.2" width="1" height="38.3" fill="#04ca81"/><rect x="718" y="550.0" width="1" height="40.5" fill="#05d889"/><rect x="719" y="552.2" width="1" height="38.3" fill="#04cf84"/><rect x="720" y="555.2" width="1" height="35.3" fill="#05d98a"/><rect x="721" y="573.8" width="1" height="16.7" fill="#05d889"/><rect x="722" y="579.0" width="1" height="11.5" fill="#04cb82"/><rect x="723" y="577.1" width="1" height="13.4" fill="#04c57e"/><rect x="724" y="551.7" width="1" height="38.8" fill="#05d889"/><rect x="725" y="554.9" width="1" height="35.6" fill="#04cb82"/><rect x="726" y="556.4" width="1" height="34.1" fill="#04d386"/><rect x="727" y="557.9" width="1" height="32.6" fill="#04c57e"/><rect x="728" y="573.0" width="1" height="17.5" fill="#04c67f"/><rect x="729" y="580.5" width="1" height="10.0" fill="#04cd83"/><rect x="730" y="578.7" width="1" height="11.8" fill="#05d788"/><rect x="731" y="557.0" width="1" height="33.5" fill="#04c57e"/><rect x="732" y="557.0" width="1" height="33.5" fill="#05dc8b"/></g>
<rect x="26.5" y="589.7" width="706.5" height="1.6" fill="#ffffff"/>
<g stroke="#ffffff" stroke-opacity="0.32" stroke-width="1" stroke-dasharray="1.5 1.4"><line x1="27" y1="278.5" x2="733" y2="278.5"/><line x1="27" y1="330.5" x2="733" y2="330.5"/><line x1="27" y1="382.5" x2="733" y2="382.5"/><line x1="27" y1="434.5" x2="733" y2="434.5"/><line x1="27" y1="486.5" x2="733" y2="486.5"/><line x1="27" y1="538.5" x2="733" y2="538.5"/></g>
<path d="M26.30 590.00L32.65 590.00L41.84 590.01L52.52 590.01L63.35 590.01L72.96 590.01L80.00 590.00L84.18 590.00L86.53 590.01L87.67 590.02L88.21 590.00L88.78 589.93L90.00 589.80L91.78 589.59L93.61 589.31L95.46 588.99L97.33 588.64L99.18 588.27L101.00 587.90L102.79 587.53L104.57 587.16L106.33 586.77L108.09 586.35L109.84 585.90L111.60 585.40L113.36 584.86L115.11 584.29L116.86 583.67L118.60 583.03L120.35 582.34L122.10 581.60L123.85 580.83L125.60 580.02L127.34 579.17L129.09 578.27L130.84 577.32L132.60 576.30L134.36 575.21L136.13 574.06L137.90 572.85L139.67 571.60L141.44 570.31L143.20 569.00L144.96 567.67L146.71 566.31L148.46 564.92L150.20 563.50L151.95 562.02L153.70 560.50L155.45 558.91L157.20 557.24L158.95 555.54L160.70 553.81L162.45 552.09L164.20 550.40L166.01 548.68L167.89 546.89L169.77 545.11L171.59 543.40L173.25 541.84L174.70 540.50L175.88 539.44L176.83 538.61L177.64 537.94L178.38 537.32L179.14 536.67L180.00 535.90L180.95 535.02L181.92 534.10L182.91 533.15L183.91 532.18L184.91 531.19L185.90 530.20L186.88 529.19L187.86 528.14L188.84 527.07L189.83 526.02L190.81 524.99L191.80 524.00L192.80 523.06L193.80 522.17L194.80 521.29L195.80 520.43L196.80 519.57L197.80 518.70L198.79 517.81L199.77 516.93L200.76 516.04L201.74 515.15L202.72 514.27L203.70 513.40L204.68 512.53L205.67 511.66L206.65 510.79L207.63 509.94L208.62 509.11L209.60 508.30L210.60 507.50L211.61 506.70L212.62 505.91L213.61 505.17L214.58 504.49L215.50 503.90L216.38 503.37L217.23 502.87L218.05 502.44L218.84 502.10L219.59 501.88L220.30 501.80L220.94 501.88L221.51 502.09L222.04 502.42L222.58 502.84L223.15 503.35L223.80 503.90L224.52 504.51L225.29 505.20L226.09 505.96L226.93 506.79L227.80 507.71L228.70 508.70L229.62 509.84L230.55 511.12L231.52 512.49L232.53 513.86L233.58 515.15L234.70 516.30L235.95 517.31L237.34 518.26L238.78 519.13L240.18 519.93L241.45 520.64L242.50 521.25L243.22 521.79L243.65 522.26L243.95 522.64L244.27 522.92L244.77 523.08L245.60 523.10L246.82 522.93L248.31 522.57L249.99 522.10L251.73 521.56L253.44 521.04L255.00 520.60L256.47 520.14L257.93 519.60L259.36 519.07L260.72 518.64L261.98 518.42L263.10 518.50L264.03 518.91L264.77 519.58L265.42 520.45L266.03 521.47L266.70 522.59L267.50 523.75L268.43 525.16L269.45 526.89L270.51 528.73L271.60 530.43L272.69 531.76L273.75 532.50L274.82 532.50L275.93 531.90L277.03 530.95L278.10 529.85L279.10 528.82L280.00 528.10L280.74 527.58L281.34 527.08L281.88 526.65L282.41 526.37L283.01 526.29L283.75 526.50L284.65 527.01L285.65 527.79L286.72 528.77L287.82 529.92L288.93 531.18L290.00 532.50L291.06 534.00L292.15 535.74L293.24 537.60L294.31 539.43L295.32 541.11L296.25 542.50L297.08 543.71L297.84 544.86L298.54 545.85L299.22 546.59L299.89 546.97L300.60 546.90L301.32 546.28L302.04 545.18L302.76 543.72L303.49 542.04L304.23 540.26L305.00 538.50L305.81 536.64L306.65 534.56L307.51 532.38L308.37 530.22L309.21 528.22L310.00 526.50L310.74 524.97L311.45 523.50L312.13 522.19L312.81 521.13L313.49 520.40L314.20 520.10L314.93 520.41L315.68 521.30L316.44 522.53L317.20 523.85L317.95 525.02L318.70 525.80L319.47 526.17L320.27 526.34L321.07 526.35L321.83 526.27L322.52 526.17L323.10 526.10L323.55 525.93L323.89 525.60L324.16 525.23L324.40 524.98L324.63 524.99L324.90 525.40L325.18 526.47L325.44 528.15L325.69 530.08L325.97 531.93L326.30 533.35L326.70 534.00L327.16 533.68L327.67 532.62L328.22 531.14L328.83 529.53L329.49 528.12L330.20 527.20L331.02 526.76L331.96 526.55L332.96 526.53L333.94 526.66L334.84 526.90L335.60 527.20L336.20 527.46L336.70 527.70L337.12 528.04L337.50 528.63L337.85 529.60L338.20 531.10L338.55 533.20L338.86 535.81L339.15 538.80L339.43 542.06L339.71 545.47L340.00 548.90L340.30 552.98L340.60 557.92L340.90 563.01L341.20 567.53L341.50 570.76L341.80 572.00L342.10 570.91L342.40 567.99L342.71 563.78L343.01 558.84L343.31 553.70L343.60 548.90L343.89 544.20L344.17 539.10L344.45 533.80L344.73 528.50L345.01 523.40L345.30 518.70L345.58 514.35L345.86 510.18L346.14 506.21L346.43 502.45L346.75 498.91L347.10 495.60L347.49 492.47L347.90 489.51L348.34 486.77L348.81 484.31L349.29 482.16L349.80 480.40L350.32 479.19L350.84 478.53L351.38 478.20L351.96 477.97L352.60 477.61L353.30 476.90L354.07 475.81L354.90 474.52L355.77 473.11L356.70 471.64L357.68 470.22L358.70 468.90L359.78 467.60L360.94 466.24L362.14 464.91L363.37 463.71L364.60 462.74L365.80 462.10L367.01 461.87L368.26 461.98L369.51 462.32L370.73 462.78L371.87 463.24L372.90 463.60L373.78 463.94L374.52 464.39L375.19 464.83L375.86 465.19L376.57 465.38L377.40 465.30L378.40 464.77L379.53 463.82L380.71 462.70L381.86 461.64L382.92 460.90L383.80 460.70L384.48 461.15L385.01 462.06L385.44 463.29L385.81 464.66L386.19 466.02L386.60 467.20L387.04 468.52L387.47 470.16L387.90 471.79L388.33 473.06L388.76 473.65L389.20 473.20L389.65 471.49L390.10 468.73L390.56 465.28L391.02 461.49L391.50 457.71L392.00 454.30L392.53 451.16L393.09 448.00L393.66 444.84L394.23 441.75L394.78 438.75L395.30 435.90L395.78 433.11L396.24 430.33L396.68 427.65L397.11 425.16L397.55 422.95L398.00 421.10L398.46 419.83L398.93 419.09L399.40 418.64L399.87 418.20L400.34 417.51L400.80 416.30L401.26 414.59L401.72 412.60L402.18 410.36L402.63 407.90L403.07 405.27L403.50 402.50L403.90 399.49L404.29 396.20L404.66 392.74L405.03 389.21L405.41 385.72L405.80 382.40L406.20 378.81L406.59 374.78L406.99 370.79L407.41 367.34L407.84 364.92L408.30 364.00L408.80 364.89L409.33 367.27L409.89 370.67L410.44 374.63L410.99 378.69L411.50 382.40L411.98 385.89L412.43 389.56L412.88 393.33L413.31 397.13L413.75 400.88L414.20 404.50L414.66 407.99L415.13 411.40L415.59 414.76L416.06 418.10L416.53 421.44L417.00 424.80L417.47 428.35L417.94 432.11L418.41 435.88L418.87 439.43L419.34 442.57L419.80 445.10L420.27 446.87L420.74 448.03L421.21 448.78L421.66 449.31L422.10 449.85L422.50 450.60L422.84 451.34L423.12 451.87L423.38 452.41L423.66 453.15L423.98 454.31L424.40 456.10L424.93 458.73L425.56 462.08L426.23 465.85L426.92 469.74L427.59 473.46L428.20 476.70L428.73 479.50L429.22 482.09L429.68 484.50L430.15 486.77L430.65 488.93L431.20 491.00L431.81 492.98L432.45 494.86L433.12 496.61L433.82 498.26L434.55 499.78L435.30 501.20L436.03 502.41L436.74 503.38L437.47 504.24L438.29 505.11L439.24 506.09L440.40 507.30L441.80 508.79L443.42 510.47L445.18 512.26L447.01 514.10L448.84 515.90L450.60 517.60L452.30 519.21L454.00 520.79L455.70 522.34L457.40 523.85L459.10 525.31L460.80 526.70L462.50 528.00L464.20 529.21L465.90 530.36L467.60 531.50L469.30 532.67L471.00 533.90L472.70 535.21L474.40 536.57L476.10 537.95L477.80 539.33L479.50 540.69L481.20 542.00L482.92 543.28L484.66 544.54L486.40 545.79L488.12 546.99L489.79 548.13L491.40 549.20L492.99 550.22L494.59 551.20L496.14 552.12L497.59 552.96L498.90 553.69L500.00 554.30L500.79 554.70L501.28 554.89L501.62 554.98L501.96 555.06L502.43 555.24L503.20 555.60L504.29 556.20L505.59 556.96L507.04 557.81L508.55 558.68L510.06 559.50L511.50 560.20L512.87 560.79L514.24 561.33L515.61 561.81L516.97 562.25L518.33 562.65L519.70 563.00L521.07 563.33L522.43 563.62L523.79 563.88L525.16 564.07L526.53 564.18L527.90 564.20L529.33 564.09L530.83 563.86L532.32 563.55L533.76 563.21L535.08 562.88L536.20 562.60L537.06 562.40L537.70 562.24L538.21 562.10L538.69 561.93L539.26 561.71L540.00 561.40L540.94 560.98L541.99 560.49L543.12 559.93L544.30 559.35L545.47 558.76L546.60 558.20L547.70 557.69L548.80 557.21L549.91 556.73L551.01 556.20L552.11 555.61L553.20 554.90L554.29 554.10L555.37 553.24L556.45 552.31L557.53 551.28L558.61 550.15L559.70 548.90L560.82 547.49L561.99 545.93L563.15 544.26L564.28 542.54L565.34 540.80L566.30 539.10L567.13 537.43L567.87 535.75L568.54 534.06L569.17 532.35L569.78 530.63L570.40 528.90L571.02 527.16L571.61 525.41L572.18 523.65L572.75 521.87L573.32 520.05L573.90 518.20L574.51 516.30L575.14 514.35L575.77 512.38L576.39 510.38L576.97 508.39L577.50 506.40L577.96 504.33L578.38 502.13L578.76 499.93L579.12 497.85L579.46 496.00L579.80 494.50L580.13 493.44L580.44 492.75L580.73 492.29L581.02 491.93L581.31 491.54L581.60 491.00L581.91 490.38L582.22 489.81L582.54 489.22L582.84 488.52L583.13 487.64L583.40 486.50L583.63 485.07L583.84 483.39L584.04 481.53L584.22 479.56L584.41 477.52L584.60 475.50L584.79 473.38L584.97 471.09L585.14 468.75L585.33 466.46L585.55 464.34L585.80 462.50L586.07 461.15L586.36 460.24L586.67 459.50L587.02 458.65L587.42 457.41L587.90 455.50L588.47 452.75L589.13 449.34L589.84 445.55L590.58 441.63L591.31 437.86L592.00 434.50L592.66 431.60L593.33 428.96L593.99 426.46L594.63 423.99L595.24 421.44L595.80 418.70L596.31 415.66L596.77 412.40L597.19 409.06L597.60 405.78L598.00 402.71L598.40 400.00L598.78 397.64L599.13 395.50L599.46 393.58L599.82 391.84L600.22 390.29L600.70 388.90L601.29 387.75L601.98 386.86L602.72 386.15L603.45 385.53L604.13 384.91L604.70 384.20L605.17 383.48L605.57 382.83L605.91 382.18L606.21 381.46L606.47 380.59L606.70 379.50L606.87 378.08L606.98 376.37L607.05 374.52L607.11 372.66L607.18 370.94L607.30 369.50L607.45 368.36L607.61 367.40L607.78 366.57L607.98 365.85L608.22 365.17L608.50 364.50L608.84 363.88L609.24 363.36L609.67 362.88L610.13 362.41L610.57 361.90L611.00 361.30L611.42 360.66L611.86 360.03L612.30 359.35L612.71 358.59L613.09 357.68L613.40 356.60L613.63 355.34L613.80 353.95L613.92 352.42L614.03 350.75L614.15 348.95L614.30 347.00L614.48 344.90L614.66 342.64L614.85 340.25L615.05 337.73L615.27 335.11L615.50 332.40L615.75 329.44L616.01 326.20L616.28 322.85L616.57 319.58L616.88 316.57L617.20 314.00L617.55 311.75L617.93 309.64L618.33 307.79L618.73 306.32L619.12 305.35L619.50 305.00L619.88 305.38L620.26 306.41L620.64 307.94L621.00 309.81L621.33 311.89L621.60 314.00L621.80 316.19L621.95 318.60L622.06 321.19L622.15 323.97L622.26 326.91L622.40 330.00L622.58 333.43L622.77 337.24L622.98 341.21L623.19 345.13L623.40 348.77L623.60 351.90L623.77 354.52L623.93 356.80L624.08 358.79L624.24 360.57L624.44 362.19L624.70 363.70L625.03 365.05L625.43 366.18L625.86 367.14L626.30 368.01L626.72 368.84L627.10 369.70L627.43 370.53L627.74 371.27L628.04 371.98L628.32 372.70L628.61 373.49L628.90 374.40L629.19 375.43L629.48 376.54L629.77 377.72L630.06 378.96L630.37 380.22L630.70 381.50L631.05 382.81L631.43 384.18L631.81 385.58L632.21 386.99L632.61 388.40L633.00 389.80L633.41 391.21L633.84 392.66L634.27 394.10L634.69 395.51L635.07 396.86L635.40 398.10L635.67 399.18L635.89 400.11L636.07 400.98L636.24 401.86L636.41 402.84L636.60 404.00L636.79 405.32L636.98 406.72L637.16 408.23L637.36 409.84L637.57 411.60L637.80 413.50L638.08 415.69L638.39 418.17L638.72 420.79L639.04 423.38L639.35 425.77L639.60 427.80L639.79 429.36L639.92 430.57L640.03 431.59L640.14 432.56L640.29 433.64L640.50 435.00L640.77 436.72L641.09 438.69L641.44 440.78L641.82 442.83L642.21 444.72L642.60 446.30L643.00 447.50L643.43 448.43L643.87 449.19L644.31 449.89L644.76 450.62L645.20 451.50L645.63 452.50L646.06 453.55L646.49 454.63L646.93 455.75L647.36 456.91L647.80 458.10L648.25 459.33L648.70 460.59L649.15 461.89L649.60 463.22L650.05 464.59L650.50 466.00L650.95 467.46L651.40 468.97L651.84 470.52L652.28 472.09L652.70 473.65L653.10 475.20L653.46 476.80L653.79 478.49L654.10 480.17L654.41 481.77L654.74 483.21L655.10 484.40L655.49 485.29L655.90 485.94L656.32 486.42L656.76 486.82L657.22 487.22L657.70 487.70L658.22 488.20L658.77 488.63L659.35 489.07L659.93 489.57L660.48 490.19L661.00 491.00L661.47 492.02L661.92 493.21L662.34 494.53L662.76 495.93L663.17 497.37L663.60 498.80L664.02 500.28L664.43 501.86L664.83 503.48L665.25 505.08L665.70 506.61L666.20 508.00L666.76 509.26L667.37 510.43L668.01 511.53L668.66 512.57L669.30 513.55L669.90 514.50L670.46 515.35L671.00 516.08L671.53 516.76L672.05 517.46L672.57 518.25L673.10 519.20L673.63 520.33L674.17 521.60L674.71 522.95L675.24 524.35L675.77 525.75L676.30 527.10L676.83 528.44L677.37 529.79L677.90 531.15L678.42 532.49L678.92 533.78L679.40 535.00L679.82 536.16L680.20 537.28L680.55 538.35L680.91 539.38L681.32 540.36L681.80 541.30L682.36 542.20L682.99 543.06L683.65 543.87L684.34 544.63L685.03 545.35L685.70 546.00L686.36 546.59L687.03 547.10L687.70 547.57L688.37 548.00L689.04 548.40L689.70 548.80L690.35 549.19L691.00 549.54L691.65 549.88L692.30 550.20L692.95 550.50L693.60 550.80L694.26 551.08L694.93 551.35L695.60 551.60L696.27 551.84L696.94 552.07L697.60 552.30L698.26 552.52L698.91 552.74L699.56 552.96L700.20 553.16L700.85 553.34L701.50 553.50L702.16 553.64L702.83 553.76L703.51 553.86L704.17 553.94L704.80 554.02L705.40 554.10L705.88 554.17L706.24 554.23L706.57 554.29L706.97 554.33L707.55 554.37L708.40 554.40L709.63 554.41L711.17 554.39L712.89 554.36L714.64 554.34L716.26 554.35L717.60 554.40L718.64 554.48L719.50 554.58L720.24 554.71L720.91 554.86L721.57 555.06L722.30 555.30L723.07 555.61L723.84 555.98L724.61 556.39L725.37 556.81L726.13 557.22L726.90 557.60L727.72 557.96L728.60 558.33L729.49 558.69L730.31 559.02L731.00 559.30L731.50 559.50" fill="none" stroke="#fffa00" stroke-width="2.2" stroke-linejoin="round" stroke-linecap="round"/>
<g shape-rendering="crispEdges">
<rect x="26" y="564" width="1.2" height="24" fill="#b4b8be"/>
<rect x="220" y="462.7" width="1.2" height="30.5" fill="#b4b8be"/>
<rect x="408" y="327.4" width="1.2" height="28" fill="#b4b8be"/>
<rect x="731" y="279" width="2" height="274" fill="#6e747d"/>
</g>
<g fill="#ffffff">
<circle cx="26.6" cy="588.4" r="2.9"/>
<circle cx="220.3" cy="493.4" r="2.9"/>
<circle cx="408.6" cy="355.4" r="2.9"/>
<circle cx="731.9" cy="553.5" r="2.9"/>
</g>
<g fill="#ffffff">
<text x="738" y="244.6" font-size="38.7" font-weight="bold" stroke="#ffffff" stroke-width="0.8" text-anchor="end" textLength="102" lengthAdjust="spacingAndGlyphs">3,215</text>
<text x="736.8" y="271.6" font-size="20" stroke="#101b29" stroke-width="0.4" text-anchor="end" textLength="94" lengthAdjust="spacingAndGlyphs">08 DIC 21</text>
<text x="329.6" y="291.8" font-size="37.8" fill="#101b29" stroke="#101b29" stroke-width="3.5" textLength="115" lengthAdjust="spacingAndGlyphs">22,339</text>
<text x="329.6" y="291.8" font-size="37.8" stroke="#101b29" stroke-width="0.4" textLength="115" lengthAdjust="spacingAndGlyphs">22,339</text>
<text x="342.8" y="320" font-size="21" stroke="#101b29" stroke-width="0.4" textLength="99.5" lengthAdjust="spacingAndGlyphs">21 ENE 21</text>
<text x="160.8" y="427.1" font-size="37.8" stroke="#101b29" stroke-width="0.4" textLength="92.6" lengthAdjust="spacingAndGlyphs">9,063</text>
<text x="164.2" y="455" font-size="21" stroke="#101b29" stroke-width="0.4" textLength="91.3" lengthAdjust="spacingAndGlyphs">20 JUL 20</text>
<path d="M27.3 505.8H33.2V532.1H29.7V509.3H25.8Z"/>
<text x="22.6" y="557.6" font-size="21" stroke="#101b29" stroke-width="0.4" textLength="99.5" lengthAdjust="spacingAndGlyphs">13 ENE 20</text>
</g>
<g fill="#ffffff" font-size="18.9" stroke="#101b29" stroke-width="0.4"><text x="37.6" y="615.8" text-anchor="middle">E</text><text x="64.5" y="615.8" text-anchor="middle">F</text><text x="96.1" y="615.8" text-anchor="middle">M</text><text x="129.5" y="615.8" text-anchor="middle">A</text><text x="162.7" y="615.8" text-anchor="middle">M</text><text x="192.0" y="615.8" text-anchor="middle">J</text><text x="217.5" y="615.8" text-anchor="middle">J</text><text x="246.3" y="615.8" text-anchor="middle">A</text><text x="276.6" y="615.8" text-anchor="middle">S</text><text x="307.1" y="615.8" text-anchor="middle">O</text><text x="341.5" y="615.8" text-anchor="middle">N</text><text x="374.6" y="615.8" text-anchor="middle">D</text><text x="403.5" y="615.8" text-anchor="middle">E</text><text x="431.2" y="615.8" text-anchor="middle">F</text><text x="462.0" y="615.8" text-anchor="middle">M</text><text x="495.3" y="615.8" text-anchor="middle">A</text><text x="528.0" y="615.8" text-anchor="middle">M</text><text x="557.6" y="615.8" text-anchor="middle">J</text><text x="583.3" y="615.8" text-anchor="middle">J</text><text x="612.0" y="615.8" text-anchor="middle">A</text><text x="642.3" y="615.8" text-anchor="middle">S</text><text x="672.9" y="615.8" text-anchor="middle">O</text><text x="706.2" y="615.8" text-anchor="middle">N</text><text x="725.7" y="615.8" text-anchor="middle">D</text></g>
<g fill="#dcdee2" font-size="13.2" stroke="#101b29" stroke-width="0.2">
<text x="27.6" y="643.2" textLength="661" lengthAdjust="spacingAndGlyphs">Nota: <tspan font-weight="bold">¹</tspan> La Secretaría de Salud agregó el 5 de octubre datos históricos rezagados desde el inicio de la pandemia en</text>
<text x="27.6" y="659.4" textLength="689.5" lengthAdjust="spacingAndGlyphs">México, tras incorporar la confirmación por dictaminación y asociación epidemiológica para el diagnóstico de Covid-19.</text>
<text x="27.6" y="675.8" textLength="673.4" lengthAdjust="spacingAndGlyphs"><tspan font-weight="bold">²</tspan> El 1 de junio de 2021, la Secretaría de Salud agregó datos pendientes de dictaminación técnica para el diagnóstico</text>
<text x="27.6" y="691.8" textLength="615.8" lengthAdjust="spacingAndGlyphs">de coronavirus. En el caso de decesos, reportó 3,924 correspondientes a 2020 y 348 a semanas recientes.</text>
</g>
<text x="26.6" y="732.7" fill="#ffffff" font-size="19.2" stroke="#101b29" stroke-width="0.3" textLength="255.5" lengthAdjust="spacingAndGlyphs">FUENTE: SECRETARÍA DE SALUD</text>
<g>
<circle cx="562.3" cy="725.5" r="8.6" fill="#12c3ee"/>
<path d="M554.8 723.2 Q560 726.8 564.6 724.4 Q567.6 722.3 566 716.3" stroke="#101b29" stroke-width="1.7" fill="none"/>
<path d="M554 727.6 Q562 732.2 570.8 724.8" stroke="#101b29" stroke-width="1.4" fill="none"/>
<path d="M555.3 731 Q563 734.8 569.8 729.4" stroke="#101b29" stroke-width="0.9" fill="none"/>
</g>
<text x="574.3" y="732.6" fill="#ffffff" font-family="Liberation Serif, serif" font-weight="bold" font-size="21.3" textLength="157.3" lengthAdjust="spacingAndGlyphs" style="font-family:'Liberation Serif',serif">EL ECONOMISTA</text>
</svg>
</body></html>
